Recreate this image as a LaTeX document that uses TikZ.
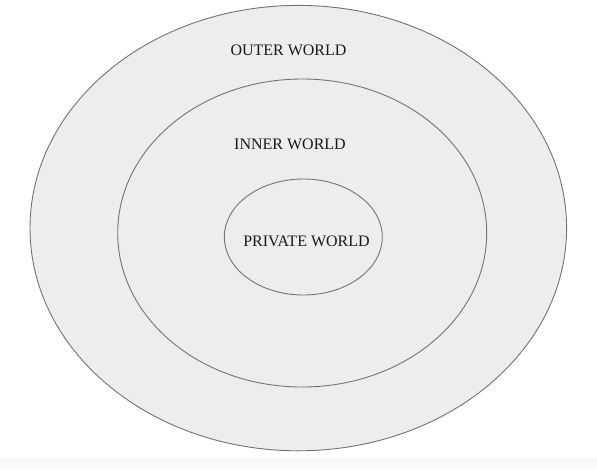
\documentclass[tikz,border=0pt]{standalone}
\usepackage{fontspec}
\setmainfont{Liberation Serif}
\begin{document}
\begin{tikzpicture}[x=1pt,y=-1pt,
  world/.style={draw=black!55,line width=0.9pt,fill=black!7},
  lbl/.style={anchor=base,inner sep=0pt,font=\fontsize{16}{19}\selectfont,text=black!90}]
\useasboundingbox (0,0) rectangle (597,469);
\fill[white] (0,0) rectangle (597,469);
\fill[gray!5] (0,458) rectangle (597,469);
\draw[world] (298.3,228.1) ellipse [x radius=268.3, y radius=222.7];
\draw[world] (302.2,233) ellipse [x radius=184.5, y radius=154];
\draw[world] (303.3,237) ellipse [x radius=79, y radius=58];
\node[lbl] (outer) at (288.5,55) {OUTER WORLD};
\node[lbl] (inner) at (290,149) {INNER WORLD};
\node[lbl] (private) at (306.5,246.7) {PRIVATE WORLD};
\end{tikzpicture}
\end{document}
